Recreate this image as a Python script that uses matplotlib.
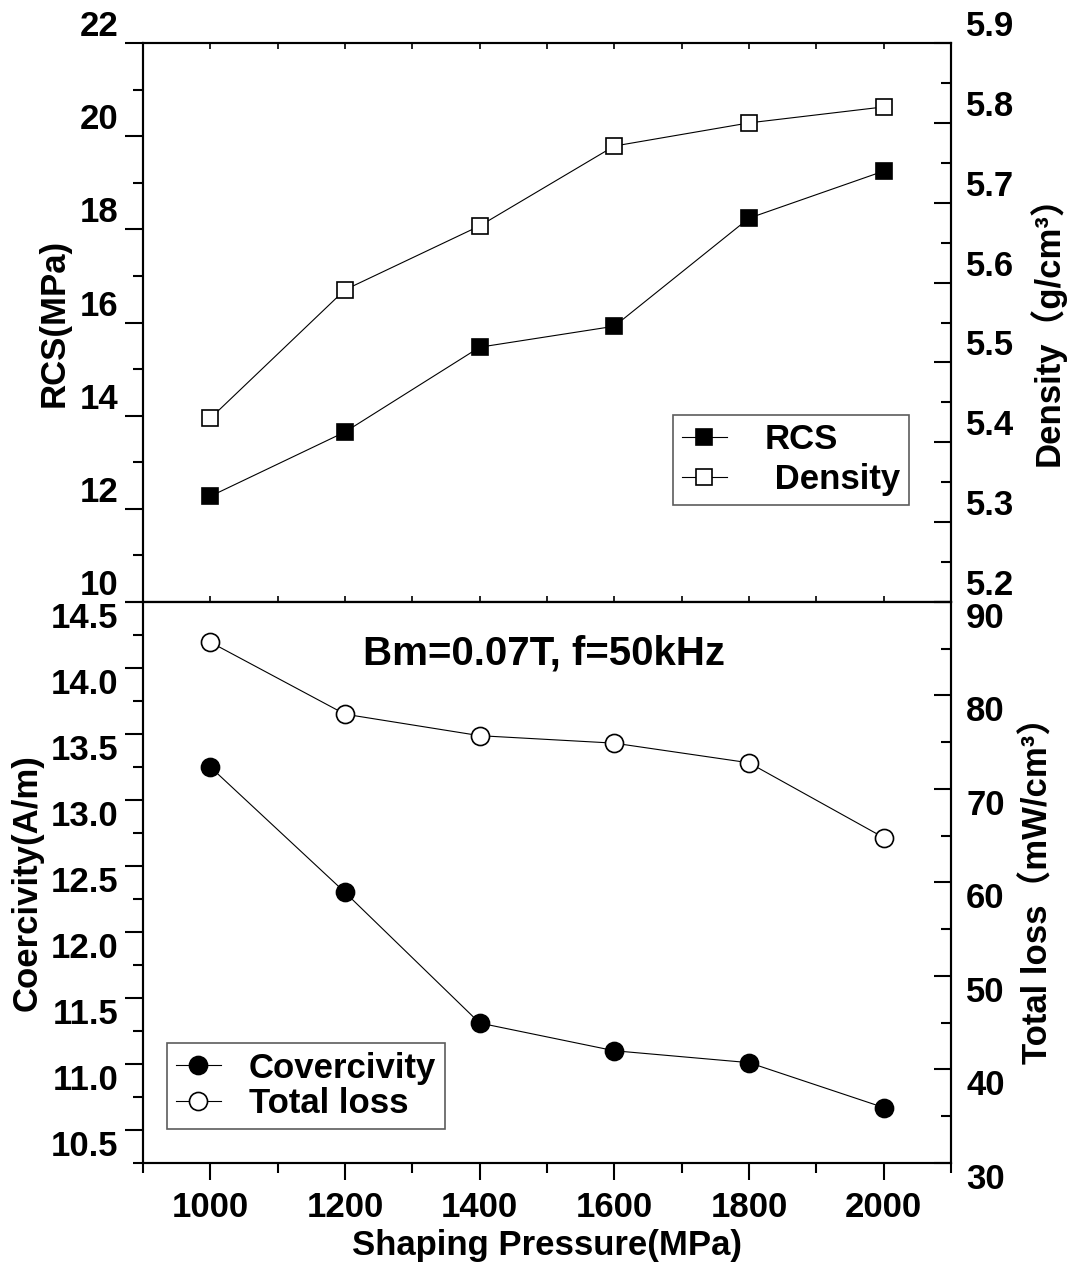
import matplotlib
matplotlib.use('Agg')
import matplotlib.pyplot as plt
from matplotlib.ticker import MultipleLocator, FormatStrFormatter

# values
pressure = [1000, 1200, 1400, 1600, 1800, 2000]
rcs = [12.27, 13.65, 15.47, 15.92, 18.24, 19.25]
density = [5.430, 5.591, 5.671, 5.771, 5.800, 5.820]
coercivity = [13.25, 12.30, 11.31, 11.10, 11.01, 10.67]
total_loss = [85.7, 78.0, 75.7, 74.9, 72.8, 64.8]

plt.rcParams['font.family'] = ['Liberation Sans', 'Noto Sans CJK SC']
plt.rcParams['font.weight'] = 'bold'
plt.rcParams['axes.labelweight'] = 'bold'
plt.rcParams['axes.linewidth'] = 1.5

FS = 25

fig = plt.figure(figsize=(10.76, 12.66), dpi=100)
left, width = 0.1329, 0.7509
ax1 = fig.add_axes([left, 0.5245, width, 0.4415])
ax3 = fig.add_axes([left, 0.0814, width, 0.4431], sharex=ax1)
ax2 = ax1.twinx()
ax4 = ax3.twinx()

line_kw = dict(color='black', lw=0.8, mew=1.2, mec='black')

l1, = ax1.plot(pressure, rcs, marker='s', ms=12, mfc='black', label='RCS', **line_kw)
l2, = ax2.plot(pressure, density, marker='s', ms=12, mfc='white', label=' Density', **line_kw)
l3, = ax3.plot(pressure, coercivity, marker='o', ms=13, mfc='black', label='Covercivity', **line_kw)
l4, = ax4.plot(pressure, total_loss, marker='o', ms=13, mfc='white', label='Total loss', **line_kw)

ax1.set_xlim(900, 2100)
ax1.xaxis.set_major_locator(MultipleLocator(200))
ax1.xaxis.set_minor_locator(MultipleLocator(100))

ax1.set_ylim(10, 22)
ax1.yaxis.set_major_locator(MultipleLocator(2))
ax1.yaxis.set_minor_locator(MultipleLocator(1))
ax1.yaxis.set_major_formatter(FormatStrFormatter('%d'))

ax2.set_ylim(5.2, 5.9)
ax2.yaxis.set_major_locator(MultipleLocator(0.1))
ax2.yaxis.set_minor_locator(MultipleLocator(0.05))
ax2.yaxis.set_major_formatter(FormatStrFormatter('%.1f'))

ax3.set_ylim(10.25, 14.5)
ax3.yaxis.set_major_locator(MultipleLocator(0.5))
ax3.yaxis.set_minor_locator(MultipleLocator(0.25))
ax3.yaxis.set_major_formatter(FormatStrFormatter('%.1f'))

ax4.set_ylim(30, 90)
ax4.yaxis.set_major_locator(MultipleLocator(10))
ax4.yaxis.set_minor_locator(MultipleLocator(5))
ax4.yaxis.set_major_formatter(FormatStrFormatter('%d'))

# tick styling
for ax in (ax1, ax3):
    ax.tick_params(axis='y', which='major', direction='out', length=13, width=1.5,
                   labelsize=FS, pad=5)
    ax.tick_params(axis='y', which='minor', direction='out', length=7, width=1.5)
for ax in (ax2, ax4):
    ax.tick_params(axis='y', which='major', direction='in', length=12, width=1.5,
                   labelsize=FS, pad=11)
    ax.tick_params(axis='y', which='minor', direction='in', length=7, width=1.5)

ax1.tick_params(axis='x', which='both', direction='in', length=4, width=1.2,
                top=True, bottom=True, labelbottom=False)
ax3.tick_params(axis='x', which='major', direction='out', length=12, width=1.5,
                labelsize=FS, pad=8)
ax3.tick_params(axis='x', which='minor', direction='out', length=7, width=1.5)

# labels of the upper panel sit above their ticks, the lower ones below
for ax in (ax1, ax2):
    for t in ax.get_yticklabels():
        t.set_va('bottom')
for ax in (ax3, ax4):
    for t in ax.get_yticklabels():
        t.set_va('top')

ax1.set_ylabel('RCS(MPa)', fontsize=FS, labelpad=6)
ax2.set_ylabel('Density（g/cm³）', fontsize=FS, labelpad=10)
ax3.set_ylabel('Coercivity(A/m)', fontsize=FS, labelpad=5)
ax4.set_ylabel('Total loss（mW/cm³）', fontsize=FS, labelpad=12)
ax3.set_xlabel('Shaping Pressure(MPa)', fontsize=FS, labelpad=4)

ax3.text(0.496, 0.909, 'Bm=0.07T, f=50kHz', transform=ax3.transAxes,
         ha='center', va='center', fontsize=29, fontweight='bold')

leg_kw = dict(fontsize=FS, frameon=True, fancybox=False, edgecolor='#333333',
              borderaxespad=0, handlelength=1.3, borderpad=0.25)
leg1 = ax2.legend([l1, l2], ['RCS', ' Density'], loc='upper right',
                  bbox_to_anchor=(0.948, 0.335), handletextpad=1.1,
                  labelspacing=0.2, **leg_kw)
leg1.get_frame().set_linewidth(1.2)
leg2 = ax4.legend([l3, l4], ['Covercivity', 'Total loss'], loc='upper left',
                  bbox_to_anchor=(0.03, 0.214), handletextpad=0.8,
                  labelspacing=0.08, **leg_kw)
leg2.get_frame().set_linewidth(1.2)

fig.savefig('out.png', dpi=100)
